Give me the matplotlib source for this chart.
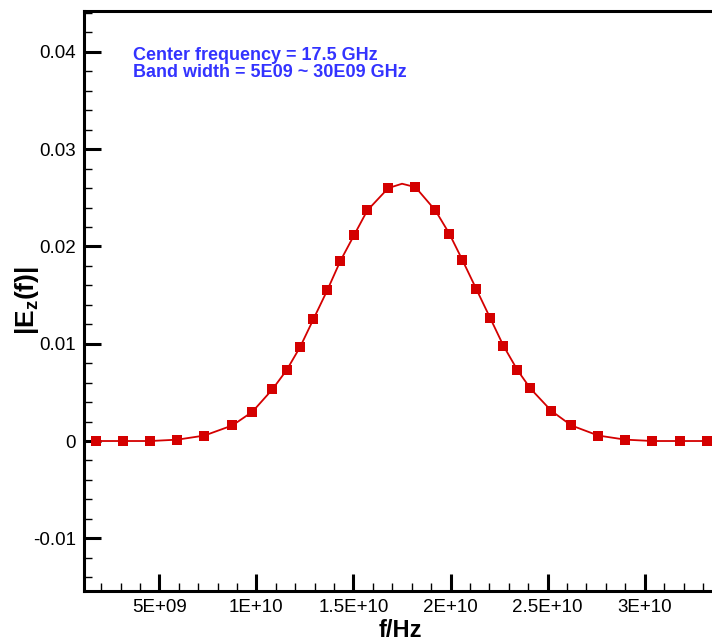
import matplotlib
matplotlib.use("Agg")
import matplotlib.pyplot as plt
from matplotlib.ticker import MultipleLocator

# frequency (GHz) of the markers and |Ez(f)|
freq_ghz = [1.74, 3.15, 4.54, 5.93, 7.32, 8.76, 9.79, 10.82, 11.56, 12.26,
            12.93, 13.65, 14.32, 15.04, 15.71, 16.79, 17.5, 18.19, 19.22, 19.94,
            20.61, 21.33, 22.05, 22.72, 23.44, 24.11, 25.19, 26.22, 27.61,
            29.0, 30.39, 31.83, 33.22]
ez = [0.0, 0.0, 0.0, 0.00014, 0.00056, 0.0016, 0.0030, 0.0053, 0.0073, 0.0097,
      0.0125, 0.0155, 0.0185, 0.0212, 0.0237, 0.0260, 0.02645, 0.0261, 0.0237, 0.0213,
      0.0186, 0.0156, 0.0126, 0.0098, 0.0073, 0.0054, 0.0031, 0.0016, 0.00056,
      0.00014, 0.0, 0.0, 0.0]
# the 17.5 GHz point is only the top of the line, it has no marker
marker_idx = [i for i in range(len(freq_ghz)) if i != 16]

x_ticks = [5e9, 1e10, 1.5e10, 2e10, 2.5e10, 3e10]
x_tick_labels = ["5E+09", "1E+10", "1.5E+10", "2E+10", "2.5E+10", "3E+10"]
y_ticks = [-0.01, 0, 0.01, 0.02, 0.03, 0.04]
y_tick_labels = ["-0.01", "0", "0.01", "0.02", "0.03", "0.04"]

plt.rcParams["font.family"] = ["Liberation Sans", "DejaVu Sans"]
plt.rcParams["mathtext.fontset"] = "custom"
plt.rcParams["mathtext.rm"] = "Liberation Sans"
plt.rcParams["mathtext.bf"] = "Liberation Sans:bold"

red = "#d40000"

fig = plt.figure(figsize=(7.12, 6.41), dpi=100)
ax = fig.add_axes([84 / 712, 50 / 641, 632 / 712, 580.5 / 641])

f_hz = [f * 1e9 for f in freq_ghz]
ax.plot(f_hz, ez, color=red, lw=1.3, marker="s", markersize=6.5,
        markevery=marker_idx, markeredgewidth=0, clip_on=False, zorder=3)

ax.set_xlim(1.12e9, 33.67e9)
ax.set_ylim(-0.01542, 0.04426)

ax.set_xticks(x_ticks)
ax.set_xticklabels(x_tick_labels)
ax.set_yticks(y_ticks)
ax.set_yticklabels(y_tick_labels)
ax.xaxis.set_minor_locator(MultipleLocator(1e9))
ax.yaxis.set_minor_locator(MultipleLocator(0.002))

ax.tick_params(which="major", direction="in", length=12, width=2.2,
               labelsize=13.5, pad=6, top=False, right=False)
ax.tick_params(which="minor", direction="in", length=6, width=1.0,
               top=False, right=False)

for side in ["left", "bottom", "top"]:
    ax.spines[side].set_linewidth(2.2)
ax.spines["right"].set_visible(False)

ax.set_xlabel("f/Hz", fontsize=17, fontweight="bold", labelpad=2)
ax.set_ylabel(r"|E$_{\mathbf{z}}$(f)|", fontsize=19, fontweight="bold")
ax.yaxis.set_label_coords(-0.068, 0.5)

ax.text(0.078, 0.937, "Center frequency = 17.5 GHz\nBand width = 5E09 ~ 30E09 GHz",
        transform=ax.transAxes, color="#3333ff", fontsize=13, fontweight="bold",
        va="top", ha="left", linespacing=1.0)

fig.savefig("out.png", dpi=100)
